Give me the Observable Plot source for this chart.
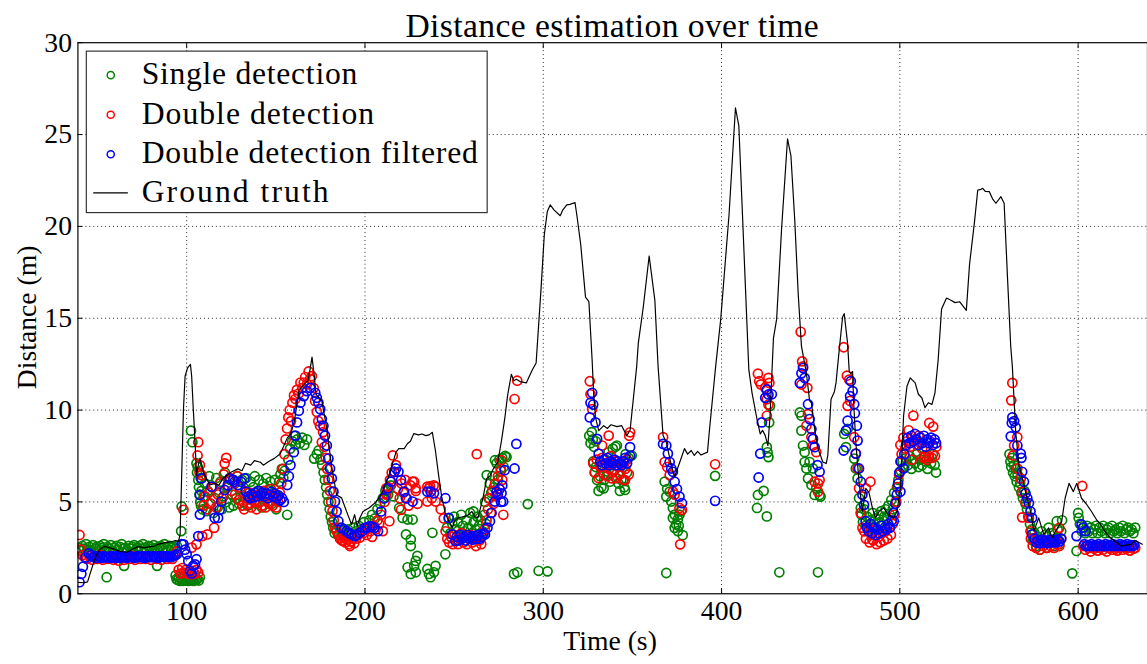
<!DOCTYPE html>
<html><head><meta charset="utf-8">
<script src="https://cdn.jsdelivr.net/npm/d3@7"></script>
<script src="https://cdn.jsdelivr.net/npm/@observablehq/plot@0.6"></script>
<style>
html,body{margin:0;padding:0;background:#fff;overflow:hidden}
#wrap{width:1147px;height:664px;overflow:hidden;position:relative}
</style></head><body><div id="wrap"></div>
<script>
const titleText = "Distance estimation over time";
const xLabel = "Time (s)";
const yLabel = "Distance (m)";
const xTicks = [100, 200, 300, 400, 500, 600];
const yTicks = [0, 5, 10, 15, 20, 25, 30];
const seriesNames = ["Single detection", "Double detection", "Double detection filtered", "Ground truth"];

const groundTruth = [[39.0,0.62],[42.5,0.6],[44.4,0.65],[46.5,1.3],[48.5,1.9],[51,2.4],[53.8,2.58],[57,2.5],[60,2.4],[63,2.3],[66.6,2.26],[70,2.45],[73.2,2.58],[76,2.5],[78.8,2.55],[82,2.6],[84.3,2.7],[88,2.78],[91,2.82],[93.7,2.9],[95.4,2.85],[96.3,3.23],[97.2,6.46],[98.2,10.06],[99.1,11.84],[100.5,12.3],[102.1,12.49],[102.8,11.84],[103.7,10.06],[104.7,8.25],[105.5,6.46],[106.5,7.0],[107.4,7.37],[109.3,6.64],[110.5,6.4],[113.0,5.92],[116,6.0],[118,5.9],[120.4,6.28],[122,6.4],[124.8,6.62],[128.7,6.8],[131,6.7],[133,7.1],[135.9,7.0],[138,7.25],[141.4,7.16],[143,7.0],[146,7.2],[149.2,7.37],[152.5,7.62],[154.7,8.1],[156.5,8.5],[158.1,8.65],[160.3,9.33],[163.1,11.1],[166.4,11.45],[168,11.6],[169.2,12.22],[170.3,12.88],[171.4,12.0],[172.5,10.87],[175.8,10.49],[178.6,8.99],[181.4,6.84],[184.1,5.38],[186.9,5.22],[189.7,4.47],[192.5,3.77],[194.2,4.31],[195.6,3.68],[197,4.1],[198.9,4.48],[202.4,4.68],[206.3,5.0],[210.0,5.56],[213.5,6.46],[217.4,7.71],[219.1,7.91],[222,7.9],[223.9,8.18],[225.5,8.3],[227.4,8.72],[230,8.65],[232,8.7],[234.1,8.61],[236,8.65],[237.8,8.79],[239.5,7.8],[241.3,6.46],[243,5.3],[245.2,4.31],[248.9,3.61],[250.5,4.0],[252.4,4.14],[256.2,4.21],[258,4.3],[260.0,4.48],[261.5,4.2],[263.4,4.14],[266.2,5.22],[268.3,6.28],[270,6.4],[272,6.8],[274.5,7.16],[276.5,8.3],[278.4,9.53],[280,10.8],[282.1,11.95],[283.5,11.6],[284.9,11.68],[287,11.55],[290.5,11.48],[292,11.8],[293.9,12.2],[296.0,12.56],[298.8,16.68],[300.6,19.56],[302.3,20.83],[303.9,21.17],[306,20.9],[309.5,20.58],[311,20.9],[313.2,21.17],[315,21.2],[317.8,21.3],[319,20.5],[321.0,19.02],[323.7,16.15],[325.6,15.9],[327.4,12.74],[328.3,10.8],[329.3,9.6],[331.1,8.88],[333.9,9.15],[336,9.0],[338,9.2],[341.3,9.1],[344,9.15],[346.8,8.61],[348.7,8.9],[350.5,10.59],[352.4,12.38],[353.3,13.63],[356.1,15.61],[359.4,18.39],[362.6,15.97],[364.4,12.38],[367.2,8.61],[369.0,8.25],[371.8,7.0],[373.7,6.37],[374.5,6.6],[377.3,7.36],[379.2,7.9],[381,7.6],[383,7.8],[384.7,7.53],[386.6,7.75],[388.5,7.55],[392.1,7.71],[393.1,8.79],[394.9,10.59],[396.7,12.38],[399.5,14.91],[404.2,20.63],[407.8,26.46],[409.7,25.47],[413.4,16.68],[415.3,12.2],[417.1,10.94],[419.9,9.5],[421.7,8.7],[423,8.9],[424.5,8.61],[426,8.07],[427.2,9.69],[429.1,13.9],[430.9,14.95],[433.7,19.91],[437.0,24.76],[438.9,23.86],[441.1,20.27],[443.0,16.32],[444.8,13.5],[447.6,12.0],[449.4,10.5],[450.4,10.4],[452.2,8.97],[454.1,7.9],[456.8,7.17],[458.7,7.09],[459.6,7.53],[461.4,10.59],[463.3,11.0],[464.2,11.48],[466,13.28],[467.9,15.07],[468.8,15.25],[470.7,13.63],[471.6,12.11],[472.5,12.0],[473.5,12.1],[474.0,10.59],[475.3,8.25],[477.1,6.1],[479.0,4.48],[480.9,5.74],[482.7,5.5],[484.6,4.67],[486.4,4.13],[488.5,4.5],[491.0,4.67],[493.5,4.3],[496.6,4.13],[498.4,4.48],[500.3,5.74],[502.1,9.69],[504.0,11.3],[505.8,11.75],[508.6,11.48],[510.4,10.86],[512.3,10.67],[514.1,10.13],[516.0,10.4],[518,10.3],[519.7,10.94],[521.5,12.74],[523.4,15.5],[526.2,16.1],[528.9,15.97],[531,15.85],[533.5,15.9],[537.3,15.43],[539.1,17.94],[541.9,20.27],[543.7,21.98],[545,22.0],[546.5,22.07],[548,21.9],[550.2,21.89],[552,21.5],[553.9,21.26],[556.7,21.62],[558.5,21.26],[560.3,17.4],[562.2,13.46],[563.1,12.38],[565.0,8.79],[566.8,7.0],[569.6,5.92],[571.4,5.2],[573.3,4.48],[575.2,3.41],[577.9,4.13],[580.7,3.23],[583.5,3.59],[585.3,3.05],[587.9,3.5],[590.8,3.95],[592.7,5.2],[594.9,6.01],[597.3,5.56],[599.2,6.01],[601.9,5.2],[604.5,4.9],[607.5,4.48],[610.5,4.0],[612.5,3.8],[614.9,3.41],[617.5,3.1],[620.5,2.87],[624.1,2.6],[627,2.65],[629.7,2.69],[632,2.9],[636,2.7]];

const singleDetection = [[39.5,2.5],[40.5,2.35],[41.5,2.6],[42.5,2.45],[43.5,2.7],[44.5,2.4],[45.5,2.55],[46.5,2.35],[47.5,2.65],[48.5,2.45],[49.5,2.55],[50.5,2.3],[51.5,2.6],[52.5,2.5],[53.5,2.7],[54.5,2.4],[55.1,0.9],[55.5,2.55],[56.5,2.45],[57.5,2.65],[58.5,2.35],[59.5,2.5],[60.5,2.6],[61.5,2.4],[62.5,2.55],[63.5,2.7],[64.5,2.45],[64.9,1.52],[65.5,2.5],[66.5,2.35],[67.5,2.6],[68.5,2.45],[69.5,2.55],[70.5,2.65],[71.5,2.4],[72.5,2.5],[73.5,2.6],[74.5,2.45],[75.5,2.7],[76.5,2.5],[77.5,2.4],[78.5,2.6],[79.5,2.55],[80.5,2.45],[81.5,2.65],[82.5,2.5],[83.4,1.52],[83.5,2.4],[84.5,2.55],[85.5,2.6],[86.5,2.45],[87.5,2.7],[88.5,2.5],[89.5,2.4],[90.5,2.6],[91.5,2.5],[92.5,2.55],[93.5,2.45],[94.5,2.6],
[93.8,1.0],[94.3,0.8],[95,0.75],[95.6,0.9],[96.2,0.7],[97,0.8],[97.8,0.7],[98.5,0.85],[99.2,0.72],[100,0.8],[100.8,0.7],[101.5,0.85],[102.3,0.72],[103,0.8],[103.8,0.7],[104.5,0.85],[105.2,0.75],[106,0.8],[106.8,0.72],[107.4,0.9],[96.9,3.41],[97.2,4.75],[102.4,8.88],[103.2,8.25],[105.5,7.1],[105.8,6.6],[106.2,6.9],[106.5,6.2],[106.9,5.8],[107.2,5.4],[107.6,5.0],[108,4.8],[107.8,6.3],[108.3,5.6],
[108.8,4.6],[109.5,5.3],[110.3,6.0],[111,4.5],[111.8,5.6],[112.6,6.4],[113.4,4.9],[114.2,5.8],[115,4.4],[115.8,5.2],[116.6,6.3],[117.4,4.7],[118.2,5.5],[119,6.1],[119.8,4.6],[120.6,5.3],[121.4,6.6],[122.2,5.0],[123,5.8],[123.8,4.7],[124.6,6.2],[125.4,5.4],[126.2,4.8],[127,6.0],[127.8,5.2],[128.6,6.4],[129.4,4.9],[130.2,5.7],[131,6.2],[131.8,5.0],[132.6,5.6],[133.4,6.3],[134.2,4.8],[135,5.5],[135.8,6.1],[136.6,5.1],[137.4,5.8],[138.2,6.4],[139,4.9],[139.8,5.6],[140.6,6.2],[141.4,5.3],[142.2,4.7],[143,6.0],[143.8,5.4],[144.6,6.3],[145.4,5.0],[146.2,5.7],[147,6.1],[147.8,4.9],[148.6,5.5],[149.4,6.2],[150.2,4.6],[151,5.3],[151.8,6.1],[152.6,6.5],[153.4,6.8],[154.2,6.3],[155,6.7],[156.4,4.3],[157,7.3],[158,7.9],[159.2,8.3],[160.1,8.6],[161,8.1],[162,8.4],[163.5,8.2],[164.8,8.5],[166,8.1],[167.5,8.4],
[171.5,7.36],[173,7.6],[174,7.8],[175,7.3],[176,7.0],[176.8,6.6],[177.5,6.2],[178.2,5.8],[178.8,5.4],[179.5,5.0],[180.2,4.6],[180.8,4.2],[181.5,3.9],[182.2,3.6],[183,3.3],[184,3.5],[185,3.2],[186,3.6],[187.5,3.4],[189,3.2],[190.5,3.5],[192,3.3],[193.5,3.6],[195,3.4],[196.5,3.7],[198,3.5],[199.5,3.9],[201,3.6],[202.5,4.0],[204,4.3],[205.5,4.1],[207,4.6],[208.5,4.9],[210,5.2],[211.5,5.6],[213,5.4],[214.5,5.9],[216,5.3],
[219.2,4.67],[221.1,4.13],[223,3.23],[223.9,4.04],[223.9,1.44],[225.7,2.96],[225.7,2.6],[225.7,1.08],[226.7,4.04],[227.6,1.52],[228.5,1.79],[228.5,1.17],[229.4,2.06],[235,1.35],[235.9,1.08],[236.8,0.9],[237.8,3.32],[238.7,1.17],[239.6,1.52],[245.1,2.15],
[246,3.6],[247,4.1],[248,3.3],[249,3.8],[250,4.2],[251,3.5],[252,3.9],[253,3.2],[254,4.3],[255,3.7],[256,3.4],[257,4.0],[258,3.6],[259,4.4],[260,3.3],[260.8,4.48],[261,3.9],[262,3.5],[263,4.2],[264,3.7],[265,4.0],[266,3.4],[267,4.3],[267.4,5.0],[268,3.8],[268.3,6.46],[269.3,5.2],[270,6.0],[270.8,5.5],[271.5,6.4],[272.3,5.8],[272.9,7.27],[273.8,7.1],[274.6,6.2],[275.4,7.3],[276.2,6.8],[277,7.4],[277.8,6.9],[278.6,7.5],[279.4,7.44],
[283.6,1.08],[285.5,1.17],[291.3,4.88],[297.4,1.25],[302.4,1.22],
[325.8,8.6],[326.5,8.2],[327.2,8.8],[327.8,8.4],[328.5,8.0],[329.5,8.3],[328,7.2],[328.8,6.6],[329.5,6.9],[330.2,6.19],[331,5.6],[331.8,6.4],[332.6,5.8],[333.4,6.9],[333.9,5.74],[334.2,6.2],[335,7.3],[335.8,6.5],[336.6,7.7],[337.4,6.1],[338.2,7.0],[339,7.9],[339.8,6.7],[340.5,8.0],[340.6,6.3],[341.3,8.07],[341.4,7.2],[342.2,6.0],[343,5.6],[343.8,6.2],[344.6,6.9],[345,6.19],[345.4,5.8],[345.9,5.65],[346.2,7.6],[347,6.6],[347.8,7.4],[349.6,7.53],
[368.1,6.1],[369,5.29],[369,1.13],[369.5,5.7],[370.9,5.56],[371.8,5.02],[372.7,4.67],[372.7,4.13],[373.7,4.31],[373.7,3.59],[374.5,3.77],[375.5,4.05],[375.5,3.41],[376.4,4.31],[377.3,4.49],[376,3.7],[378.2,3.19],[396.4,6.42],
[419.9,4.67],[420.4,5.38],[423.6,5.6],[425.4,4.21],[425.4,7.98],[425.8,7.7],[426.3,7.44],[427.2,10.23],[426.7,9.33],[432.4,1.17],[443.9,9.87],[444.8,9.69],[444.8,8.88],[445.7,8.07],[446.6,7.71],[446.6,7.17],[447.6,6.82],[448.5,6.28],[449.4,7.17],[450.4,5.92],[451.3,6.82],[452.2,5.38],[453.1,5.74],[455,5.38],[455.5,5.29],[454.1,1.17],
[468.8,8.7],[470.7,8.97],[469.8,7.98],[474.4,7.36],[475.3,6.82],[476.3,6.28],[477.1,5.2],[478.1,4.67],
[478.5,4.3],[479.3,3.9],[480,4.6],[480.8,3.7],[481.6,4.2],[482.4,3.5],[483.2,4.0],[484,3.6],[484.8,4.4],[485.6,3.8],[486.4,4.1],[487.2,3.5],[488,4.3],[488.8,3.9],[489.6,4.5],[490.4,3.7],[491.2,4.2],[492,4.6],[492.8,4.0],[493.6,4.8],[494.4,4.3],[495.2,5.1],[496,4.6],[496.8,5.5],[497.6,5.0],[498.4,5.8],[499.2,6.2],
[500.5,6.7],[501.5,7.2],[502.5,6.9],[503.5,7.4],[504.5,7.0],[505.5,7.5],[506.5,6.8],[507.5,7.3],[508.5,7.1],[509.5,7.6],[510.5,6.9],[511.5,7.3],[512.5,7.0],[513.5,7.5],[514.5,7.2],[515.5,6.8],[516.5,7.4],[517.5,7.1],[518.5,7.6],[519.5,7.0],[520.3,6.6],
[561.5,7.6],[562,7.2],[562.5,6.9],[563,7.4],[563.5,6.6],[564,7.0],[564.5,6.4],[565,6.8],[565.5,6.1],[566,6.5],[566.8,5.8],[567.5,6.0],[568.2,5.5],[569,5.2],[569.8,5.6],[570.5,4.9],[571.3,4.6],[572,4.2],[573,3.8],[574,3.5],
[574.5,2.9],[575.5,3.3],[576.5,2.6],[577.5,3.1],[578.5,2.4],[579.5,3.4],[580.5,2.8],[581.5,3.2],[582.5,2.5],[583.5,3.6],[584.5,2.9],[585.5,3.3],[586.5,2.6],[587.5,3.0],[588,3.95],[588.5,3.5],[589.5,2.7],[590.5,3.4],[591,4.0],
[596.7,1.11],[599.1,2.33],[600,4.4],[600.3,4.13],
[601,3.8],[602,3.4],[603,3.6],[604,3.3],[605,3.7],[606,3.4],[607,3.6],[608,3.3],[609,3.5],[610,3.7],[611,3.3],[612,3.6],[613,3.4],[614,3.7],[615,3.3],[616,3.5],[617,3.6],[618,3.3],[619,3.7],[620,3.4],[621,3.5],[622,3.3],[623,3.6],[624,3.4],[625,3.7],[626,3.3],[627,3.5],[628,3.6],[629,3.4],[630,3.5],[631,3.3],[632,3.6]];

const doubleDetection = [[39.9,3.2],[40.5,2.4],[41.5,2.1],[42.7,2.0],[44,1.9],[45.5,2.05],[47,1.85],[48.5,2.0],[50,1.9],[51.5,2.1],[53,1.85],[54.5,2.0],[56,1.9],[57.5,2.05],[59,1.85],[60.5,2.0],[62,1.8],[63.5,1.95],[65,1.85],[66.5,2.0],[68,1.9],[69.5,2.05],[71,1.85],[72.5,2.0],[74,1.9],[75.5,2.05],[77,1.9],[78.5,2.0],[80,1.85],[81.5,2.05],[83,1.9],[84.5,2.0],[86,1.85],[87.5,2.05],[89,1.9],[90.5,2.0],[92,1.9],[93.5,2.1],[94.5,2.3],
[95.5,1.3],[96.5,1.1],[97.5,1.4],[98.5,1.15],[99.5,1.3],[100.5,1.1],[101.5,1.2],[102.5,1.05],[103.5,1.25],[104.5,1.1],[105.5,1.3],[106.5,1.15],[98.2,4.57],[102.8,2.51],[105.5,2.69],[106.5,8.25],[106.1,7.53],[107.4,7.0],[107.2,6.6],[108.3,6.46],[108.7,3.14],[111.6,3.23],[115.4,3.59],
[109.5,4.8],[110.3,5.3],[111.3,4.6],[112.4,5.5],[113.5,4.9],[114.6,5.8],[116.5,4.7],[117.6,5.4],[118.7,6.0],[119.8,5.2],[120.8,6.5],[121.3,7.1],[122.2,7.4],[123.2,5.9],[124.2,6.3],[125.2,5.6],[126.2,6.2],[127.2,5.4],[128.2,6.4],[129.2,5.1],[130.2,5.8],[131.2,4.8],[132.2,4.6],[133.2,5.2],[134.2,4.9],[135.2,5.5],[136.2,4.7],[137.2,5.3],[138.2,5.0],[139.2,4.6],[140.2,5.4],[141.2,5.0],[142.2,4.8],[143.2,5.6],[144.2,4.7],[145.2,5.3],[146.2,4.9],[147.2,5.7],[148.2,4.8],[149.2,5.2],[150.2,4.7],[151.2,5.0],[152.2,5.5],
[153,6.0],[154,6.8],[154.8,7.6],[155.5,8.4],[156.3,9.0],[157,9.6],[157.8,10.0],[158.5,9.4],[159.3,10.4],[160.2,10.8],[161,10.6],[161.8,11.1],[162.8,10.9],[163.8,11.5],[164.8,11.2],[165.7,11.5],[166.5,11.8],[167.5,11.4],[168.4,12.1],[169.3,11.7],[170.2,11.85],[171.2,11.2],[172,10.5],[173,9.9],[173.8,9.4],[174.8,9.15],[175.8,8.25],[176.5,8.8],[177.3,8.0],[178,7.4],[178.8,6.8],[179.5,6.2],[180.3,5.6],[181,5.0],[181.8,4.5],[182.5,4.0],[183.3,3.6],[184,3.4],[185,3.2],[186,3.0],[187,2.9],[187.8,2.87],[188,3.1],[189,2.8],[190,2.95],[191,2.7],[191.5,2.6],[192,2.85],[193,3.0],[194,2.75],[195,3.0],[196,3.2],[197,3.05],[198,3.4],[199,3.3],[200,3.5],[201,3.2],[202,3.6],[203,3.4],[204,3.1],[205,3.7],[206,3.5],[207,4.0],[208,3.8],[209,4.3],[210,3.41],[211,5.0],[211.9,5.74],[212,5.4],[213,5.8],[213.7,3.95],[214,6.2],[215,6.6],[215.6,7.53],[216.5,6.64],[217.4,7.0],[218.5,5.7],[219.5,5.2],
[220.2,4.57],[220.5,6.0],[221.5,5.5],[222.5,6.2],[223.5,5.2],[224.5,4.8],[225.5,5.9],[226.7,6.1],[227.6,6.1],[228.5,5.6],[228.5,5.74],[229.5,4.9],[235,5.83],[235,5.02],[235.9,5.74],[236.5,5.85],[237.5,5.2],[238.5,5.9],[239.6,5.83],[239.6,5.02],[242.5,4.6],[244.2,4.1],[245.2,3.4],[246.2,3.0],[247.2,2.8],[248.2,3.1],[249.2,2.7],[250.2,3.2],[251.2,2.9],[252.2,2.7],[253.2,3.0],[254.2,3.3],[255.2,2.8],[256.2,3.1],[257.2,2.7],[258.2,3.0],[259.2,3.2],[260.2,2.8],[261.2,3.0],[262.2,2.6],[262.7,7.6],[263.2,3.1],[264.2,2.9],[265.2,2.7],[266.2,3.2],[267.2,3.5],[268.2,4.0],[269,4.6],[269.8,5.2],[270.6,4.4],[271.4,5.6],[272.2,4.9],[273,6.0],[273.8,5.3],[274.6,6.4],[275.4,5.7],[276.2,6.7],[276.5,7.27],[277,6.2],[277.6,4.3],[283.9,10.6],[285.4,11.6],
[326.1,11.57],[326.5,10.86],[327.4,10.05],[333,8.07],[336.7,8.61],[348.7,8.79],[348.2,8.6],
[328,7.1],[329,6.6],[330,7.3],[331,6.3],[332,6.9],[333,7.4],[334,6.5],[335,7.0],[336,6.4],[337,6.8],[338,7.5],[338.5,6.28],[339,6.6],[340,7.2],[341,6.3],[342,6.9],[343,6.5],[344,7.1],[345,6.2],[345.9,6.19],[346,6.8],[347,7.3],[348,6.5],
[367.2,8.52],[368.1,7.17],[369.5,6.9],[370.9,6.46],[372.7,5.56],[373.7,5.4],[376.4,4.67],[377.8,4.57],[376.8,2.69],[396.4,7.05],
[420.4,11.98],[421.1,11.57],[422,11.4],[424.5,11.21],[426.3,11.75],[426.8,11.48],[425.4,10.59],[426.3,10.3],[425.4,9.69],
[444.4,14.26],[445.2,12.65],[445.7,12.38],[444.8,11.39],[448.1,11.21],[448.5,9.78],[447.6,9.15],[450.4,8.52],[451.3,8.07],[453.1,7.71],[452.2,6.1],[454.1,6.0],[455,6.19],[454.1,5.56],
[468.5,13.42],[470.3,11.87],[471.6,11.66],[470.7,10.23],[472.1,10.5],[474.4,8.52],[475.3,7.63],[476.3,6.82],[477.1,5.74],[483.5,6.1],[480.9,5.74],
[478,4.4],[479,3.59],[480,3.4],[481,3.0],[482,3.6],[483,2.8],[484,3.2],[484.6,2.96],[485,2.9],[486,3.5],[487,2.7],[488,3.1],[489,2.8],[490,3.3],[491,2.9],[492,3.4],[493,3.0],[494,3.6],[495,3.2],[496,3.8],[497,4.3],[498,5.0],[498.8,5.8],[499.6,6.5],[500.4,7.2],
[500.3,8.1],[501,7.6],[502,8.5],[503,7.9],[504,8.3],[504.9,8.9],[505.8,8.0],[506.7,7.3],[507.6,9.7],[508.5,8.4],[509.5,8.1],[510.5,8.6],[511.5,8.2],[512.5,7.9],[513.3,7.4],[514.2,7.5],[515.1,7.3],[516,7.5],[516.5,9.3],[517,8.3],[517.9,7.4],[518.7,9.1],[519.7,7.5],[520.5,8.0],
[563.1,11.48],[562.5,10.53],[565.9,8.52],[564.1,8.07],[563.5,7.53],[565.9,6.82],[567.8,6.28],[568.6,5.56],[568.6,4.16],[570.5,5.0],[572.4,4.13],[573.3,3.4],
[573.5,3.0],[574.5,2.6],[575.5,2.9],[576.5,2.5],[577.5,2.8],[578.5,2.4],[579.5,2.9],[580.5,2.6],[581.5,2.8],[582.5,2.5],[583.5,2.9],[584.5,2.6],[585.5,2.8],[586.5,2.5],[587.5,2.9],[588.5,2.7],[589.4,3.59],[589.5,2.6],[590.5,3.0],[602.3,5.87],
[603,2.6],[604,2.4],[605,2.6],[606,2.5],[607,2.3],[608,2.55],[609,2.45],[610,2.6],[611,2.35],[612,2.5],[613,2.6],[614,2.4],[615,2.55],[616,2.3],[617,2.5],[618,2.6],[619,2.4],[620,2.55],[621,2.45],[622,2.35],[623,2.5],[624,2.6],[625,2.4],[626,2.55],[627,2.45],[628,2.5],[629,2.35],[630,2.55],[631,2.45],[632,2.5]];

const doubleFiltered = [[39.9,0.63],[40.9,1.08],[41.8,1.47],[43.3,1.97],[45.1,2.2],[46.5,2.1],[47.5,2.0],[48.5,2.05],[49.5,1.95],[50.5,2.05],[51.5,2.0],[52.5,1.95],[53.5,2.05],[54.5,2.0],[55.5,2.0],[56.5,1.95],[57.5,2.05],[58.5,2.0],[59.5,1.95],[60.5,2.05],[61.5,2.0],[62.5,1.95],[63.5,2.0],[64.5,2.05],[65.5,2.0],[66.5,1.95],[67.5,2.0],[68.5,2.05],[69.5,2.0],[70.5,1.95],[71.5,2.0],[72.5,2.05],[73.5,2.0],[74.5,2.0],[75.5,2.05],[76.5,1.95],[77.5,2.0],[78.5,2.05],[79.5,2.0],[80.5,2.0],[81.5,2.05],[82.5,2.0],[83.5,1.95],[84.5,2.05],[85.5,2.0],[86.5,2.05],[87.5,2.0],[88.5,2.05],[89.5,2.0],[90.5,2.05],[91.5,2.0],[92.5,2.05],[93.5,2.1],[94.5,2.15],
[97.2,2.7],[98.2,2.69],[99.1,2.4],[100,2.15],[100.9,1.79],[101.9,1.25],[102.8,1.1],[103.7,1.52],[104.7,1.6],[105.5,1.88],[106.5,3.14],[107.4,4.31],[107.4,5.38],[108.3,6.28],
[113.9,5.83],[115.7,4.13],[117.6,4.13],[118.5,4.57],[119.4,5.02],[121.3,5.65],[123,5.9],[124.1,6.28],[126,6.2],[126.8,6.1],[128.7,5.92],[130.5,6.1],[132.4,6.28],[133.3,5.56],
[134.5,5.3],[135.5,5.2],[136.5,5.4],[137.5,5.25],[138.5,5.5],[139.5,5.3],[140.5,5.6],[141.5,5.4],[142.5,5.5],[143.5,5.3],[144.5,5.45],[145.5,5.2],[146.5,5.4],[147.5,5.55],[148.5,5.3],[149.5,5.45],[150.5,5.2],[151.5,5.35],[152.5,5.1],[153.5,5.2],[154.5,5.0],
[156.4,5.92],[157.3,6.4],[158.2,7.0],[160.1,7.71],[161,8.61],[161.9,9.33],[162.9,9.96],[163.8,10.4],[165.7,10.76],[167.5,11.03],[169.3,11.21],
[172.1,10.94],[173,10.67],[173.9,10.4],[174.9,10.05],[175.8,9.51],[176.7,9.15],[177.6,8.61],[178.6,8.07],[179.5,7.36],[180.4,6.82],[181.4,6.28],[182.3,5.56],[183.2,5.02],[184.1,4.48],[185.1,3.95],[186.9,3.59],[188.3,3.5],[189.7,3.41],[191,3.3],[192.5,3.23],[194.3,3.14],[195.5,3.2],[197,3.32],[198.5,3.4],[199.8,3.59],[201.2,3.6],[202.6,3.68],[204,3.65],[205.3,3.59],[207.3,3.41],[209.1,4.48],[210.9,5.2],[212.8,5.74],[214.6,6.1],[216.5,6.64],[217.4,6.82],[218.8,6.64],[220.2,6.19],[222,5.56],[223,5.2],[226.7,5.02],[235,5.56],[236.9,5.56],[238.7,5.47],[245.1,5.2],[247,4.13],[248.9,3.23],[250.7,2.87],
[251.5,3.1],[252.5,2.9],[253.5,3.2],[254.5,3.0],[255.5,3.1],[256.5,2.9],[257.5,3.2],[258.5,3.0],[259.5,3.1],[260.5,2.95],[261.5,3.15],[262.5,3.0],[263.5,3.2],[264.5,3.0],[265.5,3.1],[266.5,3.3],
[267.3,3.23],[268.7,3.6],[270.1,3.95],[271,4.4],[272.8,5.02],[273.8,5.56],[274.5,5.4],[275.5,5.7],[276.3,5.0],[276.6,5.47],[277,5.9],[277.5,5.02],[278.4,6.73],[283.9,6.82],[284.9,8.16],
[327.4,10.94],[326.5,10.4],[328,10.3],[326.1,9.6],[329.3,9.33],[330.2,8.43],[331.1,7.63],
[332,7.2],[333,7.0],[334,7.3],[335,7.1],[336,7.4],[337,7.0],[338,7.2],[339,7.1],[340,7.3],[341,7.0],[342,7.2],[343,7.1],[344,7.0],[345,7.2],[346,7.4],[347,7.1],[348.7,7.98],[348.7,7.5],
[367.2,8.16],[369,8.07],[369.9,7.63],[370.9,7.17],[371.8,6.82],[372.7,6.64],[373.7,6.1],[375,5.7],[376.4,5.29],[377.8,4.93],[396.4,5.06],
[425.4,11.12],[426.3,10.85],[428.2,10.86],[424.5,10.67],[422.6,9.33],[421.7,7.63],[420.8,6.33],
[445.7,12.29],[444.8,12.0],[446.6,11.75],[443.9,11.48],[448.5,10.32],[449.4,9.51],[450.4,8.97],[451.3,8.43],[452.2,7.98],[453.8,7.0],[455,6.64],
[472.5,11.57],[473.5,11.03],[472.1,10.76],[474.4,10.32],[474.8,9.83],[470.7,9.42],[469.8,8.88],[468.5,7.8],[475.9,9.15],[476.3,8.34],[475.3,7.63],[477.1,6.82],[478.1,6.1],[479,5.4],[479.9,4.84],[480.8,3.95],
[481.5,3.6],[482.5,3.4],[483.5,3.8],[484.5,3.3],[485.5,3.6],[486.5,3.2],[487.5,3.5],[488.5,3.3],[489.5,3.7],[490.5,3.4],[491.5,3.6],[492.5,3.5],[493.5,3.8],[494.5,3.6],[495.5,4.0],[496.6,3.95],[496.5,4.4],[497.5,4.9],[498.3,5.4],[499,6.0],[499.7,6.6],[500.3,5.56],[500.5,7.2],[502.1,6.82],
[502.5,7.6],[503.5,8.1],[504.5,8.5],[505.5,8.2],[506.5,8.6],[507.5,8.3],[508.5,8.7],[509.5,8.4],[510.5,8.1],[511.5,8.5],[512.5,8.2],[513.5,8.6],[514.5,8.0],[515.5,8.4],[516.5,8.2],[517.5,8.5],[518.5,8.1],[519.5,8.4],[520.3,8.2],
[563.1,9.6],[564.1,9.4],[562.8,9.3],[565,9.06],[562.2,8.57],[565.9,8.07],[567.8,7.63],[568.2,7.4],[568.6,6.64],[569.6,6.1],[570.5,5.47],[571.5,5.2],[572.4,4.93],[573.3,4.48],[574.2,4.13],[574.2,3.23],
[575.5,3.0],[576.5,2.8],[577.5,2.9],[578.5,2.75],[579.5,2.95],[580.5,2.8],[581.5,2.9],[582.5,2.75],[583.5,2.85],[584.5,2.95],[585.5,2.8],[586.5,2.9],[587.5,2.8],[588.5,2.95],[589.5,2.85],[590.5,3.0],
[599.1,3.14],[601.9,3.77],[602.8,3.6],[604.2,3.41],
[603.5,2.7],[604.5,2.6],[605.5,2.65],[606.5,2.6],[607.5,2.7],[608.5,2.6],[609.5,2.65],[610.5,2.6],[611.5,2.7],[612.5,2.6],[613.5,2.65],[614.5,2.6],[615.5,2.7],[616.5,2.6],[617.5,2.65],[618.5,2.6],[619.5,2.7],[620.5,2.6],[621.5,2.65],[622.5,2.6],[623.5,2.7],[624.5,2.6],[625.5,2.65],[626.5,2.6],[627.5,2.7],[628.5,2.6],[629.5,2.65],[630.5,2.6],[631.5,2.65]];

const colors = {single: "#008000", double: "#ff0000", filtered: "#0000ff"};
const FONT = "'Liberation Serif', 'Times New Roman', serif";
const toObj = a => a.map(([t, d]) => ({t, d}));

const dotOpts = c => ({x: "t", y: "d", r: 4.6, stroke: c, strokeWidth: 1.7, fill: "none", clip: true});

const chart = Plot.plot({
  width: 1160, height: 664,
  marginLeft: 78.3, marginRight: 0, marginTop: 42.7, marginBottom: 64,
  style: {fontFamily: FONT, fontSize: "27px", background: "white", color: "black", overflow: "visible"},
  x: {domain: [39, 638.9], axis: null},
  y: {domain: [0, 30], axis: null},
  marks: [
    Plot.gridX(xTicks, {stroke: "#000", strokeOpacity: 0.85, strokeDasharray: "1,3", strokeWidth: 1}),
    Plot.gridY(yTicks.slice(1, -1), {stroke: "#000", strokeOpacity: 0.85, strokeDasharray: "1,3", strokeWidth: 1}),
    Plot.dot(toObj(singleDetection), dotOpts(colors.single)),
    Plot.dot(toObj(doubleDetection), dotOpts(colors.double)),
    Plot.dot(toObj(doubleFiltered), dotOpts(colors.filtered)),
    Plot.line(toObj(groundTruth), {x: "t", y: "d", stroke: "black", strokeWidth: 1.2, clip: true}),
    Plot.axisX(xTicks, {anchor: "bottom", tickSize: 0, tickPadding: 7, label: null, fontSize: 28}),
    Plot.axisY(yTicks, {anchor: "left", tickSize: 0, tickPadding: 6, label: null, fontSize: 28}),
    Plot.axisX(xTicks, {anchor: "bottom", tickSize: -5, tickFormat: () => "", label: null}),
    Plot.axisX(xTicks, {anchor: "top", tickSize: -5, tickFormat: () => "", label: null}),
    Plot.axisY(yTicks, {anchor: "left", tickSize: -5, tickFormat: () => "", label: null}),
    Plot.frame({stroke: "black", strokeWidth: 1.2})
  ]
});
document.getElementById("wrap").appendChild(chart);

const svg = d3.select(chart);
const txt = svg.append("g").attr("font-family", FONT).attr("fill", "black");
txt.append("text").attr("x", 619).attr("y", 37).attr("text-anchor", "middle").attr("font-size", 34)
  .attr("textLength", 418).attr("lengthAdjust", "spacing").text(titleText);
txt.append("text").attr("x", 617).attr("y", 657).attr("text-anchor", "middle").attr("font-size", 28).text(xLabel);
txt.append("text").attr("transform", "translate(36,321) rotate(-90)").attr("text-anchor", "middle").attr("font-size", 28).text(yLabel);

const leg = svg.append("g").attr("font-family", FONT);
leg.append("rect").attr("x", 87.3).attr("y", 51.7).attr("width", 405.4).attr("height", 163.3)
  .attr("fill", "white").attr("stroke", "#333").attr("stroke-width", 1.2);
const legColors = [colors.single, colors.double, colors.filtered];
const rowsY = [76, 116, 156, 195];
const legWidths = [218, 235, 340, 189];
legColors.forEach((c, i) => {
  leg.append("circle").attr("cx", 112).attr("cy", rowsY[i]).attr("r", 3.6)
    .attr("fill", "none").attr("stroke", c).attr("stroke-width", 1.5);
});
leg.append("line").attr("x1", 94.3).attr("x2", 129.3).attr("y1", rowsY[3]).attr("y2", rowsY[3])
  .attr("stroke", "black").attr("stroke-width", 1.2);
seriesNames.forEach((name, i) => {
  leg.append("text").attr("x", 143.3).attr("y", rowsY[i] + 9).attr("text-anchor", "start")
    .attr("font-size", 32).attr("fill", "black")
    .attr("textLength", legWidths[i]).attr("lengthAdjust", "spacing").text(name);
});
</script></body></html>
